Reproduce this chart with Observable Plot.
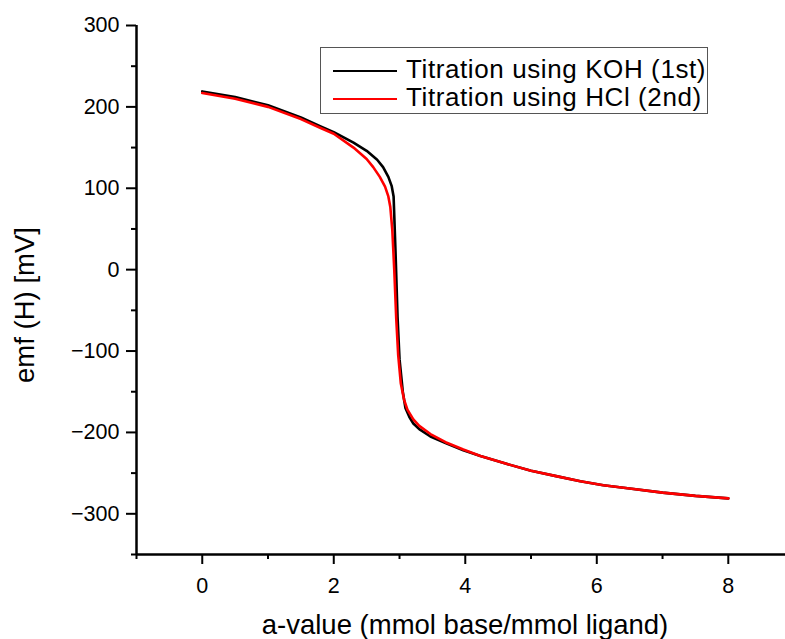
<!DOCTYPE html>
<html>
<head>
<meta charset="utf-8">
<script src="https://cdn.jsdelivr.net/npm/d3@7"></script>
<script src="https://cdn.jsdelivr.net/npm/@observablehq/plot@0.6"></script>
<style>
  html, body { margin: 0; padding: 0; background: #fff; overflow: hidden; }
  #wrap { position: relative; width: 785px; height: 639px; font-family: "Liberation Sans", Arial, sans-serif; }
  #legend { position: absolute; left: 320px; top: 47px; width: 388px; height: 67px; border: 1px solid #555; box-sizing: border-box; background: #fff; }
  .row { position: absolute; left: 0; height: 28px; line-height: 28px; display: flex; align-items: center; font-size: 26px; letter-spacing: 0.6px; color: #000; white-space: nowrap; }
  .sw { width: 64px; height: 2.5px; margin-left: 12px; margin-right: 9px; margin-top: 4px; }
</style>
</head>
<body>
<div id="wrap"></div>
<script>
// ---- data ----
const kohX = [0, 0.5, 1, 1.5, 1.8, 2, 2.3, 2.5, 2.66, 2.75, 2.83, 2.88, 2.91, 2.94, 2.97, 3.0, 3.05, 3.09, 3.15, 3.21, 3.3, 3.47, 3.7, 3.97, 4.23, 4.6, 5, 5.4, 5.75, 6.1, 6.5, 7, 7.5, 8];
const kohY = [219, 212, 202, 187, 176, 169, 156, 146, 135, 126, 114, 103, 90, 20, -58, -110, -150, -170, -181, -189, -196, -205, -213, -222, -229, -238, -247, -254, -260, -265, -269, -274, -278, -281];
const hclX = [0, 0.5, 1, 1.5, 1.8, 2, 2.3, 2.5, 2.6, 2.7, 2.78, 2.83, 2.86, 2.89, 2.92, 2.95, 2.98, 3.02, 3.07, 3.12, 3.21, 3.3, 3.47, 3.7, 3.97, 4.23, 4.6, 5, 5.4, 5.75, 6.1, 6.5, 7, 7.5, 8];
const hclY = [217, 210, 200, 185, 174, 167, 150, 136, 126, 114, 102, 90, 77, 49, 0, -60, -105, -140, -160, -172, -184, -192, -202, -212, -221, -229, -238, -247, -254, -260, -265, -269, -274, -278, -281];
const seriesNames = ["Titration using KOH (1st)", "Titration using HCl (2nd)"];
const seriesColors = ["#000000", "#ff0000"];
const xMajorTicks = [0, 2, 4, 6, 8];
const xMinorTicks = [-1, 1, 3, 5, 7];
const yMajorTicks = [-300, -200, -100, 0, 100, 200, 300];
const yMinorTicks = [-350, -250, -150, -50, 50, 150, 250];
const xDomain = [-1, 8.87];
const yDomain = [-350, 300];
const xTitle = ["a-value (mmol base/mmol ligand)"];
const yTitle = ["emf (H) [mV]"];

const koh = kohX.map((x, i) => ({x, y: kohY[i]}));
const hcl = hclX.map((x, i) => ({x, y: hclY[i]}));

const chart = Plot.plot({
  width: 785,
  height: 639,
  marginLeft: 136,
  marginRight: 0,
  marginTop: 25,
  marginBottom: 85,
  style: {fontFamily: '"Liberation Sans", Arial, sans-serif', fontSize: "21.5px", color: "#000", background: "#fff"},
  x: {domain: xDomain},
  y: {domain: yDomain},
  marks: [
    Plot.axisX({ticks: xMajorTicks, tickSize: 10, tickPadding: 13, strokeWidth: 2, label: null, fontSize: 21.5}),
    Plot.axisX({ticks: xMinorTicks, tickSize: 5, text: null, strokeWidth: 2, label: null}),
    Plot.axisY({ticks: yMajorTicks, tickSize: 10, tickPadding: 7, strokeWidth: 2, label: null, fontSize: 21.5}),
    Plot.axisY({ticks: yMinorTicks, tickSize: 5, text: null, strokeWidth: 2, label: null}),
    Plot.ruleX([xDomain[0]], {y1: yDomain[0], y2: yDomain[1], stroke: "#000", strokeWidth: 2.5}),
    Plot.ruleY([yDomain[0]], {x1: xDomain[0], x2: xDomain[1], stroke: "#000", strokeWidth: 2.5}),
    Plot.line(koh, {x: "x", y: "y", stroke: seriesColors[0], strokeWidth: 2.6}),
    Plot.line(hcl, {x: "x", y: "y", stroke: seriesColors[1], strokeWidth: 2.6}),
    Plot.text(xTitle, {frameAnchor: "bottom", dy: 79, dx: 4, fontSize: 27.5, lineAnchor: "bottom", textAnchor: "middle", fill: "#000"}),
    Plot.text(yTitle, {frameAnchor: "left", rotate: -90, dx: -111, dy: 15, fontSize: 27.5, textAnchor: "middle", fill: "#000"})
  ]
});

const wrap = document.getElementById("wrap");
wrap.appendChild(chart);

const legend = document.createElement("div");
legend.id = "legend";
seriesNames.forEach((name, i) => {
  const row = document.createElement("div");
  row.className = "row";
  row.style.top = (7 + i * 28) + "px";
  const sw = document.createElement("div");
  sw.className = "sw";
  sw.style.background = seriesColors[i];
  const t = document.createElement("span");
  t.textContent = name;
  row.appendChild(sw);
  row.appendChild(t);
  legend.appendChild(row);
});
wrap.appendChild(legend);
</script>
</body>
</html>
